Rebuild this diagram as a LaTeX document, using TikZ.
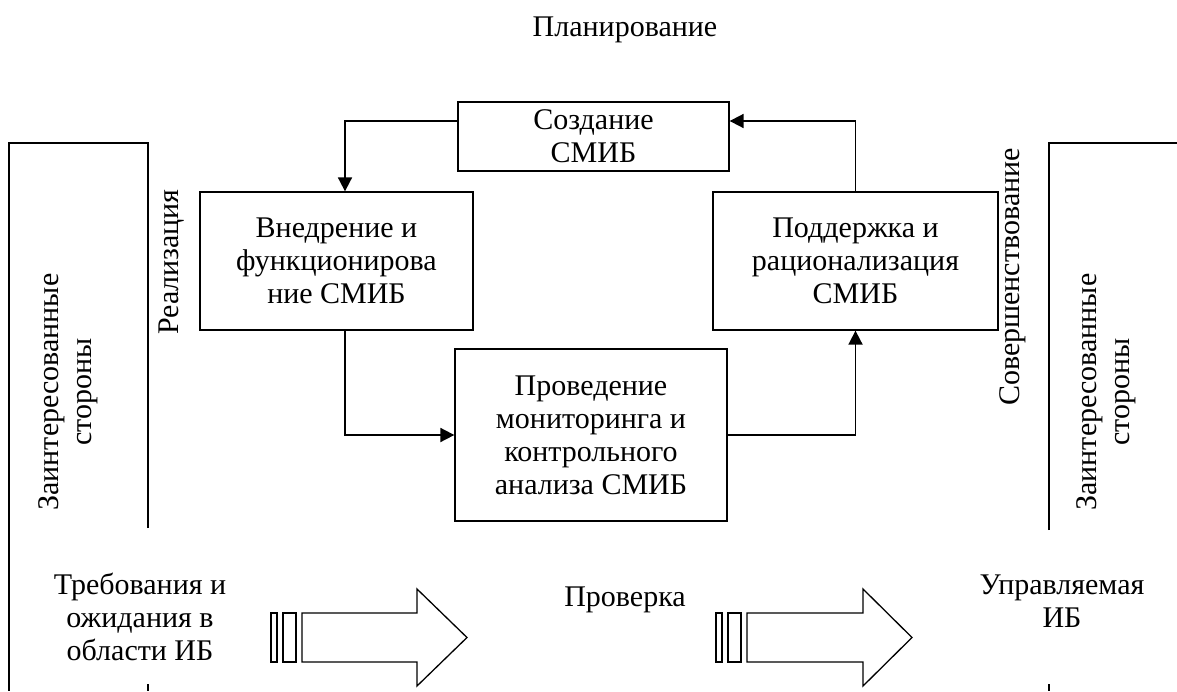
\documentclass[tikz,border=0pt]{standalone}
\usepackage{fontspec}
\setmainfont{Liberation Serif}
\usetikzlibrary{arrows.meta,calc}
\newcommand{\bigtxt}{\fontsize{30}{33}\selectfont}
\tikzset{
  box/.style={draw, line width=1.3pt, inner sep=0pt, align=center, font=\bigtxt},
  conn/.style={line width=1.8pt, -{Triangle[length=14pt,width=14pt]}},
  frame/.style={line width=1.3pt},
  lbl/.style={inner sep=0pt, align=center, font=\bigtxt},
  bigarrow/.style={line width=1.3pt, line join=miter}
}
\begin{document}
\begin{tikzpicture}[x=1pt,y=-1pt]
\useasboundingbox (0,0) rectangle (1177,691);
% outer frames
\draw[frame] (148,528) -- (148,143) -- (9,143) -- (9,691);
\draw[frame] (148,684) -- (148,691);
\draw[frame] (1049,530) -- (1049,143) -- (1177,143);
\draw[frame] (1049,684) -- (1049,691);
% boxes
\node[box, minimum width=271pt, minimum height=69pt] (create) at (593.5,136.5) {Создание\\СМИБ};
\node[box, minimum width=273pt, minimum height=138pt] (impl) at (336.5,261) {Внедрение и\\функционирова\\ние СМИБ};
\node[box, minimum width=272pt, minimum height=172pt] (mon) at (591,435) {Проведение\\мониторинга и\\контрольного\\анализа СМИБ};
\node[box, minimum width=285pt, minimum height=138pt] (supp) at (855.5,261) {Поддержка и\\рационализация\\СМИБ};
% connectors
\draw[conn] ([yshift=15.5pt]create.west) -| ([xshift=8.5pt]impl.north);
\draw[conn] ([xshift=8.5pt]impl.south) |- (mon.west);
\draw[conn] (mon.east) -| (supp.south);
\draw[conn] (supp.north) |- ([yshift=15.5pt]create.east);
% labels
\node[lbl] (plan) at (625,30) {Планирование};
\node[lbl] (check) at (625,600) {Проверка};
\node[lbl, rotate=90] (real) at (172,262) {Реализация};
\node[lbl, rotate=90] (impr) at (1013,277) {Совершенствование};
\node[lbl, rotate=90] (stake1) at (68,392) {Заинтересованные\\стороны};
\node[lbl, rotate=90] (stake2) at (1106,392) {Заинтересованные\\стороны};
\node[lbl] (req) at (140,617) {Требования и\\ожидания в\\области ИБ};
\node[lbl] (managed) at (1062,601) {Управляемая\\ИБ};
% big arrows
\draw[bigarrow] (271,613) rectangle (277,662);
\draw[bigarrow] (283,613) rectangle (296,662);
\draw[bigarrow] (302,613) -- (417,613) -- (417,589) -- (467,637.5) -- (417,686) -- (417,662) -- (302,662) -- cycle;
\draw[bigarrow] (716,613) rectangle (722,662);
\draw[bigarrow] (728,613) rectangle (741,662);
\draw[bigarrow] (747,613) -- (863,613) -- (863,589) -- (912,637.5) -- (863,686) -- (863,662) -- (747,662) -- cycle;
\end{tikzpicture}
\end{document}
